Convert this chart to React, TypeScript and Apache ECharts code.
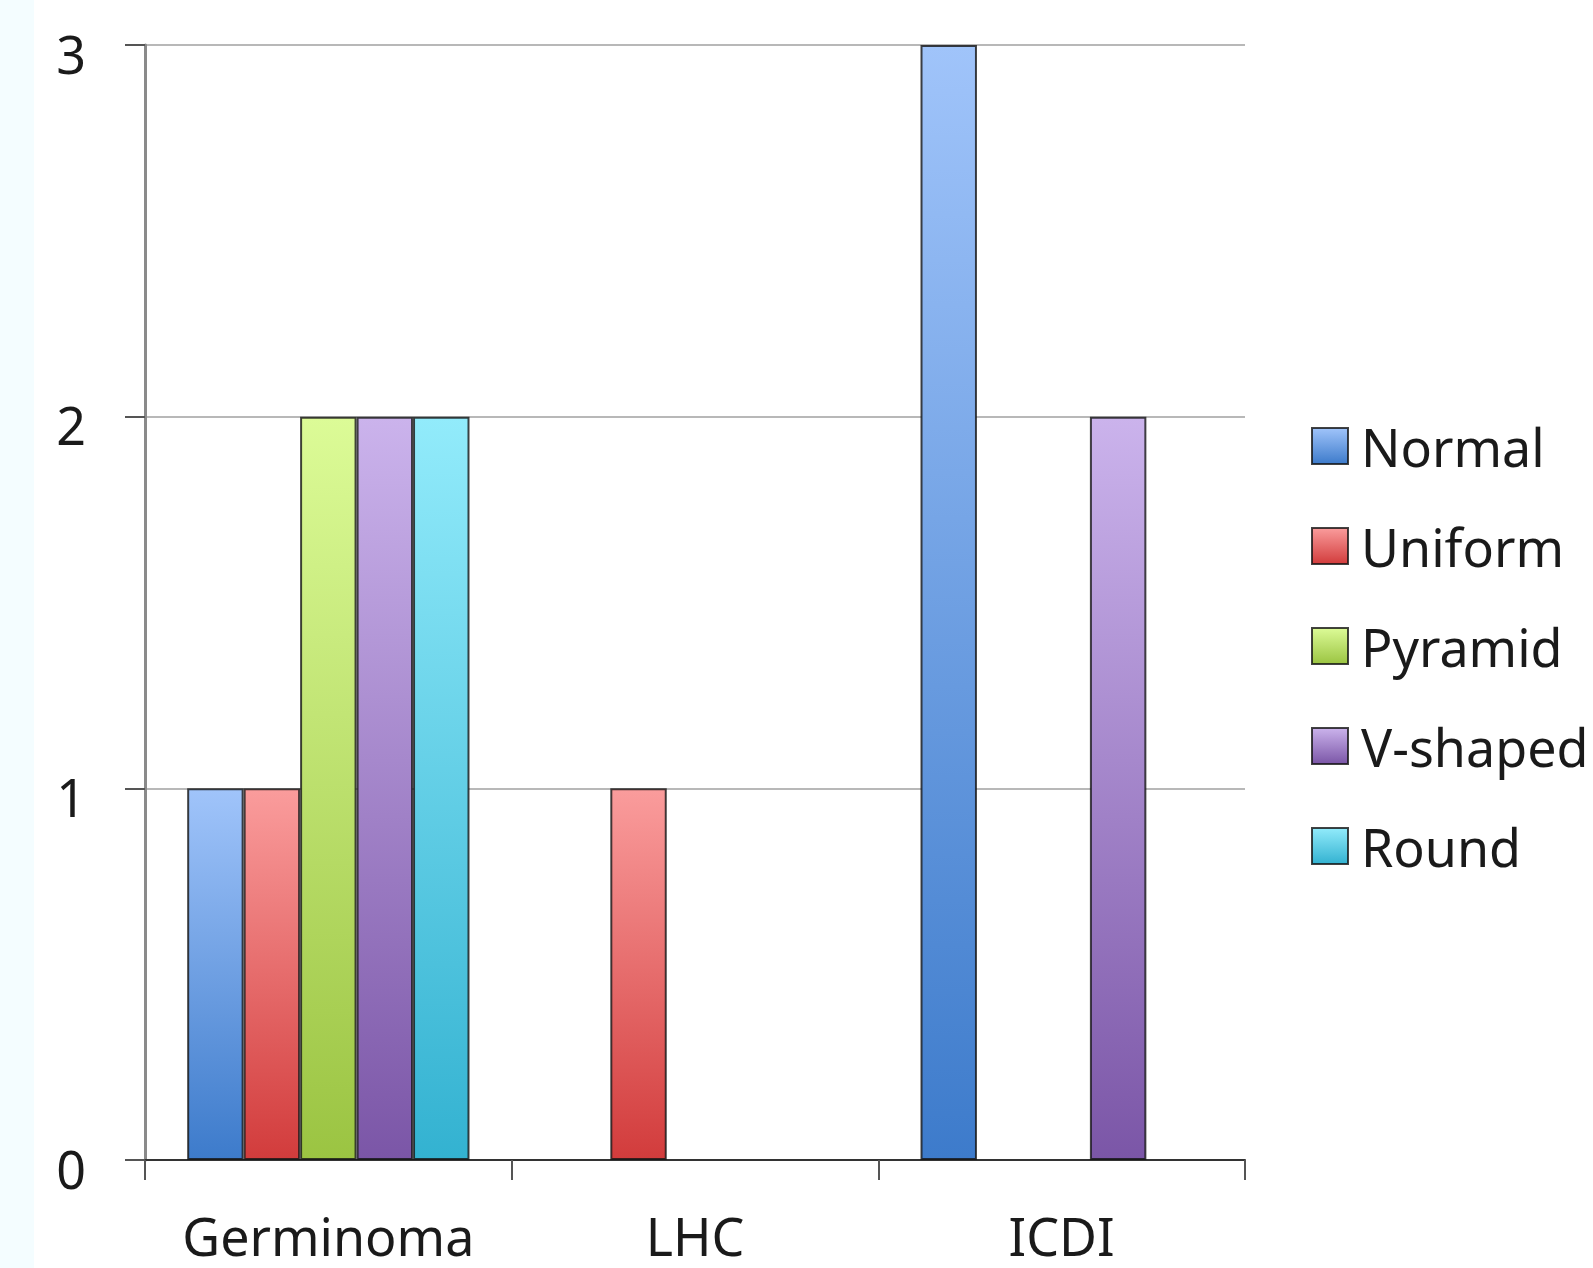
import React, { useEffect, useRef } from "react";
import * as echarts from "echarts";

const categories = ["Germinoma", "LHC", "ICDI"];
const seriesNames = ["Normal", "Uniform", "Pyramid", "V-shaped", "Round"];
const normalValues = [1, 0, 3];
const uniformValues = [1, 1, 0];
const pyramidValues = [2, 0, 0];
const vShapedValues = [2, 0, 2];
const roundValues = [2, 0, 0];
const yTicks = [0, 1, 2, 3];

const seriesValues = [normalValues, uniformValues, pyramidValues, vShapedValues, roundValues];
const gradientStops: [string, string][] = [
  ["#a0c4fa", "#3d7bcb"],
  ["#fa9c9c", "#d23c3c"],
  ["#dcfb97", "#9bc442"],
  ["#cbb3ec", "#7b56a7"],
  ["#92ebfb", "#33b2d1"],
];

const FONT = "'Noto Sans', sans-serif";

export default function App() {
  const ref = useRef<HTMLDivElement>(null);
  useEffect(() => {
    if (!ref.current) return;
    const chart = echarts.init(ref.current, null, { renderer: "svg" });
    const grad = (c: [string, string]) =>
      new echarts.graphic.LinearGradient(0, 0, 0, 1, [
        { offset: 0, color: c[0] },
        { offset: 1, color: c[1] },
      ]);
    chart.setOption({
      animation: false,
      backgroundColor: "#ffffff",
      graphic: [
        { type: "rect", left: 0, top: 0, z: -10, shape: { width: 34, height: 1268 }, style: { fill: "#f4fdff" } },
      ],
      grid: { left: 145, right: 348, top: 45, bottom: 108, containLabel: false },
      legend: {
        orient: "vertical",
        left: 1306,
        top: 415,
        itemWidth: 36,
        itemHeight: 36,
        itemGap: 48,
        icon: "rect",
        textStyle: { fontFamily: FONT, fontSize: 52, color: "#1a1a1a", lineHeight: 52, padding: [0, 0, 0, 8] },
        data: seriesNames,
      },
      xAxis: {
        type: "category",
        data: categories,
        axisLine: { show: true, lineStyle: { color: "#333333", width: 2 } },
        axisTick: { show: true, interval: 0, length: 20, lineStyle: { color: "#555555", width: 2 } },
        axisLabel: { interval: 0, fontFamily: FONT, fontSize: 52, color: "#1a1a1a", margin: 60, lineHeight: 30 },
      },
      yAxis: {
        type: "value",
        min: yTicks[0],
        max: yTicks[yTicks.length - 1],
        interval: 1,
        axisLine: { show: true, lineStyle: { color: "#8a8a8a", width: 3 } },
        axisTick: { show: true, length: 20, lineStyle: { color: "#555555", width: 2 } },
        axisLabel: { fontFamily: FONT, fontSize: 52, color: "#1a1a1a", margin: 59, verticalAlign: "top", lineHeight: 16 },
        splitLine: { show: true, lineStyle: { color: "#b8b8b8", width: 2 } },
      },
      series: seriesNames.map((name, i) => ({
        name,
        type: "bar",
        data: seriesValues[i].map((v) => (v === 0 ? null : v)),
        barGap: "0%",
        barCategoryGap: "23%",
        itemStyle: {
          color: grad(gradientStops[i]),
          borderColor: "rgba(20,20,20,0.8)",
          borderWidth: 2,
        },
      })),
    });
    return () => chart.dispose();
  }, []);
  return (
    <div
      ref={ref}
      style={{ position: "absolute", left: 0, top: 0, width: 1593, height: 1268 }}
    />
  );
}
